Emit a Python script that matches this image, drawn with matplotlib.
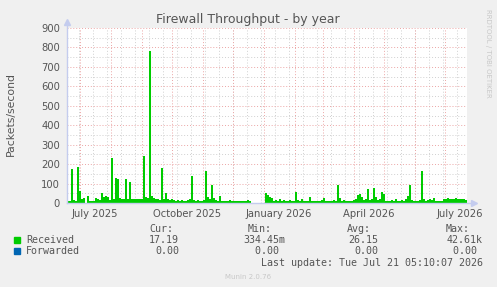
import numpy as np
import pandas as pd
import matplotlib
matplotlib.use("Agg")
from matplotlib import pyplot as plt
import matplotlib.dates as mdates

# received packets/s, one value every 2 days from 2025-06-18
received = [
    10, 12, 175, 15, 12, 185, 60, 20, 25, 2,
    35, 8, 10, 12, 25, 20, 15, 50, 30, 35,
    30, 15, 230, 20, 130, 125, 25, 20, 18, 125,
    20, 110, 18, 20, 22, 18, 20, 22, 240, 30,
    25, 780, 35, 25, 20, 22, 15, 180, 20, 50,
    20, 15, 18, 15, 12, 15, 12, 15, 10, 12,
    15, 18, 140, 15, 12, 15, 10, 12, 15, 165,
    30, 20, 95, 25, 15, 12, 35, 10, 12, 10,
    12, 15, 12, 10, 8, 12, 10, 12, 10, 8,
    15, 10, 1, 1, 1, 1, 1, 1, 2, 50,
    40, 30, 25, 12, 15, 10, 20, 12, 15, 10,
    12, 15, 12, 10, 55, 15, 12, 20, 10, 12,
    8, 30, 12, 10, 8, 12, 10, 15, 25, 10,
    8, 12, 10, 15, 12, 95, 25, 12, 15, 10,
    8, 12, 10, 15, 20, 40, 45, 30, 15, 20,
    70, 15, 20, 75, 30, 15, 20, 55, 45, 12,
    10, 12, 15, 10, 20, 12, 10, 15, 12, 20,
    35, 95, 15, 12, 10, 12, 15, 165, 20, 12,
    15, 20, 15, 25, 12, 10, 8, 12, 18, 20,
    25, 18, 22, 20, 25, 18, 20, 22, 18, 17,
]
start = "2025-06-18"
end = "2026-07-23"

tick_dates = ["2025-07-16", "2025-10-16", "2026-01-16", "2026-04-16", "2026-07-16"]
tick_labels = ["July 2025", "October 2025", "January 2026", "April 2026", "July 2026"]

col_heads = ["Cur:", "Min:", "Avg:", "Max:"]
rec_stats = ["17.19", "334.45m", "26.15", "42.61k"]
fwd_stats = ["0.00", "0.00 ", "0.00", "0.00 "]

W, H = 497, 287
fig = plt.figure(figsize=(W / 100, H / 100), dpi=100, facecolor="#F0F0F0")

def fx(x):
    return x / W

def fy(y):
    return 1 - y / H

L, R, T, B = 67, 467, 28, 203
ax = fig.add_axes([fx(L), fy(B), (R - L) / W, (B - T) / H])
ax.set_facecolor("white")

x = pd.date_range(start, periods=len(received) + 1, freq="2D")
xn = mdates.date2num(x)
y = np.array(received + [received[-1]], dtype=float)
ax.fill_between(xn, y, step="post", color="#00CC00", lw=0, zorder=3)

x0 = mdates.date2num(pd.Timestamp(start))
x1 = mdates.date2num(pd.Timestamp(end))
ax.set_xlim(x0, x1)
ax.set_ylim(0, 900)

grey = "#D0D0D0"
red = "#EBA5A5"
dot = (0, (1, 2))
# minor vertical grid every two weeks, major every month
for d in pd.date_range("2025-06-30", end, freq="14D"):
    ax.axvline(mdates.date2num(d), color=grey, lw=0.7, ls=dot, zorder=1)
for d in pd.date_range("2025-07-01", end, freq="MS"):
    ax.axvline(mdates.date2num(d), color=red, lw=0.7, ls=dot, zorder=2)
for v in range(50, 900, 100):
    ax.axhline(v, color=grey, lw=0.7, ls=dot, zorder=1)
for v in range(100, 901, 100):
    ax.axhline(v, color=red, lw=0.7, ls=dot, zorder=2)

ax.set_yticks(range(0, 901, 100))
ax.set_xticks(mdates.date2num(pd.to_datetime(tick_dates)))
ax.set_xticklabels(tick_labels)
ax.tick_params(axis="both", length=0, labelsize=7.2, colors="#555555")
ax.tick_params(axis="y", pad=5)
ax.tick_params(axis="x", pad=4)

for s in ax.spines.values():
    s.set_visible(False)
axc = "#C4CCEE"
ax.plot([0, 0], [0, 1.03], transform=ax.transAxes, color=axc, lw=1, clip_on=False, zorder=4)
ax.plot([0, 1.015], [0, 0], transform=ax.transAxes, color=axc, lw=1, clip_on=False, zorder=4)
ax.plot([0], [1.035], transform=ax.transAxes, marker="^", ms=4, color=axc, clip_on=False)
ax.plot([1.017], [0], transform=ax.transAxes, marker=">", ms=4, color=axc, clip_on=False)

txt = "#555555"
fig.text(fx(248), fy(19), "Firewall Throughput - by year", ha="center", va="center",
         fontsize=9.0, color=txt)
fig.text(fx(11), fy(114), "Packets/second", rotation=90, ha="center", va="center",
         fontsize=7.8, color=txt)
fig.text(fx(488), fy(53), "RRDTOOL / TOBI OETIKER", rotation=270, ha="center", va="center",
         fontsize=5.0, color="#C8C8C8")

mono = "DejaVu Sans Mono"
fs = 7.2
head_right = [173, 272, 371, 470]
val_right = [179, 285, 378, 483]
for h, xr in zip(col_heads, head_right):
    fig.text(fx(xr), fy(229), h, ha="right", va="center", family=mono, fontsize=fs, color=txt)
for s, xr in zip(rec_stats, val_right):
    fig.text(fx(xr), fy(240), s, ha="right", va="center", family=mono, fontsize=fs, color=txt)
for s, xr in zip(fwd_stats, val_right):
    fig.text(fx(xr), fy(251), s, ha="right", va="center", family=mono, fontsize=fs, color=txt)

fig.patches.append(plt.Rectangle((fx(14), fy(243)), 6 / W, 6 / H, transform=fig.transFigure,
                                 color="#00CC00", figure=fig))
fig.patches.append(plt.Rectangle((fx(14), fy(254)), 6 / W, 6 / H, transform=fig.transFigure,
                                 color="#0066B3", figure=fig))
fig.text(fx(26), fy(240), "Received", ha="left", va="center", family=mono, fontsize=fs, color=txt)
fig.text(fx(26), fy(251), "Forwarded", ha="left", va="center", family=mono, fontsize=fs, color=txt)
fig.text(fx(483), fy(263), "Last update: Tue Jul 21 05:10:07 2026", ha="right", va="center",
         family=mono, fontsize=fs, color=txt)
fig.text(fx(248), fy(277), "Munin 2.0.76", ha="center", va="center", fontsize=5, color="#C8C8C8")

fig.savefig("out.png", dpi=100, facecolor=fig.get_facecolor())
